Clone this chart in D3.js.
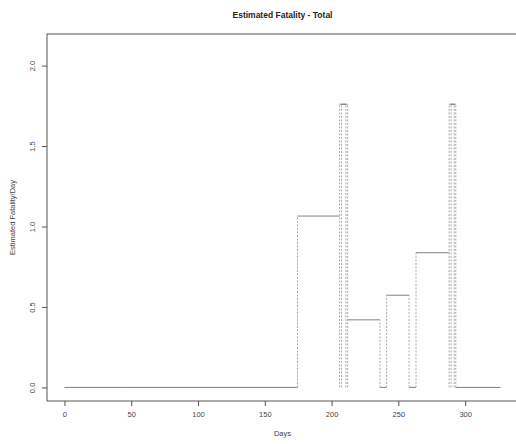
<!DOCTYPE html>
<html><head><meta charset="utf-8">
<script src="https://cdn.jsdelivr.net/npm/d3@7"></script>
<style>body{margin:0;background:#fff;} svg{display:block;font-family:"Liberation Sans",Arial,sans-serif;}</style>
</head><body>
<svg id="c" width="516" height="444"></svg>
<script>
// Step intervals: start day, end day, estimated fatality/day
const starts = [0, 26, 42, 47, 174.5, 206, 207.5, 212, 236.2, 241.2, 258, 263.2, 288, 289.5, 293, 321.7];
const ends   = [26, 42, 47, 174.5, 206, 210.7, 212, 236.2, 241.2, 258, 263.2, 288, 291.8, 293, 321.7, 326.5];
const values = [0, 0, 0, 0, 1.065, 1.76, 1.76, 0.42, 0, 0.573, 0, 0.837, 1.76, 1.76, 0, 0];
const xTicks = [0, 50, 100, 150, 200, 250, 300];
const yTicks = [0, 0.5, 1.0, 1.5, 2.0];
const titleText = "Estimated Fatality - Total";
const xLabel = "Days", yLabel = "Estimated Fatality/Day";

const svg = d3.select("#c");
const L = 47, R = 518, T = 34, B = 401;
const xmin = 0, xmax = 326.5, ymin = 0, ymax = 1.2 * 1.76;
const xpad = (xmax - xmin) * 0.04, ypad = (ymax - ymin) * 0.04;
const x = d3.scaleLinear().domain([xmin - xpad, xmax + xpad]).range([L, R]);
const y = d3.scaleLinear().domain([ymin - ypad, ymax + ypad]).range([B, T]);

const axisCol = "#555", lineCol = "#808080", txtCol = "#444";
const font = "Liberation Sans, Arial, sans-serif";

// plot frame (right side falls outside the picture)
svg.append("rect").attr("x", L).attr("y", T).attr("width", R - L).attr("height", B - T)
  .attr("fill", "none").attr("stroke", axisCol).attr("stroke-width", 1);

// axes
const xa = svg.append("g").attr("transform", `translate(0,${B})`)
  .call(d3.axisBottom(x).tickValues(xTicks).tickSize(5).tickPadding(6).tickFormat(d3.format("d")));
xa.select(".domain").remove();
xa.selectAll("line").attr("stroke", axisCol);
xa.selectAll("text").attr("font-size", 7.5).attr("fill", txtCol).attr("font-family", font);

const ya = svg.append("g").attr("transform", `translate(${L},0)`)
  .call(d3.axisLeft(y).tickValues(yTicks).tickSize(5).tickFormat(d3.format(".1f")));
ya.select(".domain").remove();
ya.selectAll("line").attr("stroke", axisCol);
ya.selectAll("text").attr("font-size", 7.5).attr("fill", txtCol).attr("font-family", font)
  .attr("text-anchor", "middle").attr("x", 0).attr("dy", 0)
  .attr("transform", "translate(-12,0) rotate(-90)");

// data: horizontal solid steps + dotted verticals
const data = starts.map((s, i) => ({s, e: ends[i], v: values[i]}));
const g = svg.append("g");
g.selectAll("line.h").data(data).join("line").attr("class", "h")
  .attr("x1", d => x(d.s)).attr("x2", d => x(d.e))
  .attr("y1", d => y(d.v)).attr("y2", d => y(d.v))
  .attr("stroke", lineCol).attr("stroke-width", 1);
const vmap = new Map();
data.forEach(d => {
  [d.s, d.e].forEach(xx => vmap.set(xx, Math.max(vmap.get(xx) ?? 0, d.v)));
});
const verts = Array.from(vmap, ([xx, v]) => ({x: xx, v}));
g.selectAll("line.v").data(verts.filter(d => d.v > 0)).join("line").attr("class", "v")
  .attr("x1", d => x(d.x)).attr("x2", d => x(d.x))
  .attr("y1", y(0)).attr("y2", d => y(d.v))
  .attr("stroke", "#a8a8a8").attr("stroke-width", 1).attr("stroke-dasharray", "2,1.5");
g.selectAll("line.z").data(verts.filter(d => d.v === 0 && d.x > 0 && d.x < xmax)).join("line").attr("class", "z")
  .attr("x1", d => x(d.x)).attr("x2", d => x(d.x))
  .attr("y1", y(0) - 0.5).attr("y2", y(0) + 0.5)
  .attr("stroke", "#999").attr("stroke-width", 1);

// titles
svg.append("text").attr("x", (L + R) / 2).attr("y", 18).attr("text-anchor", "middle")
  .attr("font-size", 8.5).attr("font-weight", "bold").attr("fill", "#222").attr("font-family", font).text(titleText);
svg.append("text").attr("x", (L + R) / 2).attr("y", 436).attr("text-anchor", "middle")
  .attr("font-size", 7.5).attr("fill", txtCol).attr("font-family", font).text(xLabel);
svg.append("text").attr("transform", `translate(15,${(T + B) / 2}) rotate(-90)`).attr("text-anchor", "middle")
  .attr("font-size", 7.5).attr("fill", txtCol).attr("font-family", font).text(yLabel);
</script>
</body></html>
